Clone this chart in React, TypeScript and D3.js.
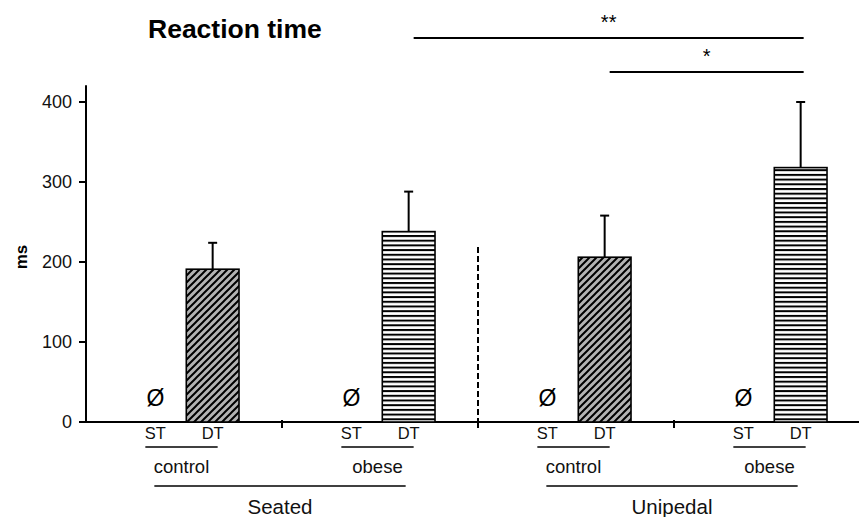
import React from "react";
import * as d3 from "d3";

const conditions = ["Seated", "Unipedal"];
const groups = ["control", "obese"];
const tasks = ["ST", "DT"];
// DT reaction time means (ms) per condition × group; ST has no data (Ø)
const dtMean = [191, 238, 206, 318];
const dtErr = [33, 50, 52, 82];
const yTicks = [0, 100, 200, 300, 400];
const comparisons = [
  { from: 1, to: 3, label: "**" },
  { from: 2, to: 3, label: "*" },
];

const W = 859;
const H = 517;
const FONT = "'Liberation Sans', Arial, Helvetica, sans-serif";

export default function App() {
  const cells = conditions.flatMap((c) => groups.map((g) => `${c}|${g}`));
  const x0 = d3.scaleBand<string>().domain(cells).range([86, 870]).padding(0);
  const x1 = d3
    .scaleBand<string>()
    .domain(tasks)
    .range([0, x0.bandwidth()])
    .paddingInner(0.08)
    .paddingOuter(0.75);
  const y = d3.scaleLinear().domain([0, 400]).range([422, 102]);
  const axisX = x0.range()[0];
  const bw = x1.bandwidth();
  const center = (i: number, t: string) => (x0(cells[i]) as number) + (x1(t) as number) + bw / 2;

  return (
    <svg
      width={W}
      height={H}
      style={{ position: "absolute", left: 0, top: 0, background: "#fff" }}
      fontFamily={FONT}
    >
      <defs>
        <pattern id="diag" patternUnits="userSpaceOnUse" width="7" height="7">
          <rect width="7" height="7" fill="#b3b3b3" />
          <path d="M-1,1 l2,-2 M0,7 l7,-7 M6,8 l2,-2" stroke="#000" strokeWidth="2" />
        </pattern>
        <pattern id="horiz" patternUnits="userSpaceOnUse" width="8" height="4.7">
          <rect width="8" height="4.7" fill="#fff" />
          <line x1="0" x2="8" y1="1" y2="1" stroke="#000" strokeWidth="2" />
        </pattern>
      </defs>

      {/* title */}
      <text x={148} y={38} fontSize={26.5} fontWeight="bold" fill="#000">
        Reaction time
      </text>

      {/* y axis */}
      <line x1={axisX} x2={axisX} y1={y(421)} y2={y(0)} stroke="#000" strokeWidth={2} />
      {yTicks.map((t) => (
        <g key={t}>
          <line x1={axisX - 7} x2={axisX} y1={y(t)} y2={y(t)} stroke="#000" strokeWidth={2} />
          <text x={axisX - 14} y={y(t)} dy="0.35em" textAnchor="end" fontSize={18} fill="#111">
            {t}
          </text>
        </g>
      ))}
      <text
        transform={`translate(27,257) rotate(-90)`}
        textAnchor="middle"
        fontSize={17}
        fontWeight="bold"
        fill="#000"
      >
        ms
      </text>

      {/* x axis */}
      <line x1={axisX} x2={W} y1={y(0)} y2={y(0)} stroke="#000" strokeWidth={2} />
      {cells.slice(1).map((c) => (
        <line
          key={c}
          x1={x0(c) as number}
          x2={x0(c) as number}
          y1={y(0) - 2}
          y2={y(0) + 6}
          stroke="#000"
          strokeWidth={2}
        />
      ))}
      {/* dashed separator between conditions */}
      <line
        x1={x0(cells[2]) as number}
        x2={x0(cells[2]) as number}
        y1={247}
        y2={y(0)}
        stroke="#000"
        strokeWidth={2}
        strokeDasharray="6,3"
      />

      {/* bars */}
      {cells.map((c, i) => {
        const xs = center(i, "ST");
        const xd = center(i, "DT");
        const left = xd - bw / 2;
        const group = groups[i % 2];
        return (
          <g key={c}>
            <text x={xs} y={406} textAnchor="middle" fontSize={23} fill="#000">
              Ø
            </text>
            <rect
              x={left}
              y={y(dtMean[i])}
              width={bw}
              height={y(0) - y(dtMean[i])}
              fill={group === "control" ? "url(#diag)" : "url(#horiz)"}
              stroke="#000"
              strokeWidth={1.6}
            />
            <line
              x1={xd}
              x2={xd}
              y1={y(dtMean[i])}
              y2={y(dtMean[i] + dtErr[i])}
              stroke="#000"
              strokeWidth={2}
            />
            <line
              x1={xd - 4.5}
              x2={xd + 4.5}
              y1={y(dtMean[i] + dtErr[i])}
              y2={y(dtMean[i] + dtErr[i])}
              stroke="#000"
              strokeWidth={2}
            />
            {tasks.map((t) => (
              <text
                key={t}
                x={center(i, t)}
                y={439}
                textAnchor="middle"
                fontSize={16.5}
                fill="#111"
              >
                {t}
              </text>
            ))}
            <line
              x1={xs - 10}
              x2={xd + 5}
              y1={447}
              y2={447}
              stroke="#000"
              strokeWidth={1.6}
            />
            <text
              x={(xs - 10 + xd + 5) / 2}
              y={473}
              textAnchor="middle"
              fontSize={18.5}
              fill="#111"
            >
              {group}
            </text>
          </g>
        );
      })}

      {/* condition labels */}
      {conditions.map((cond, k) => {
        const a = center(k * 2, "ST") - 1;
        const b = center(k * 2 + 1, "DT") - 3;
        return (
          <g key={cond}>
            <line x1={a} x2={b} y1={486} y2={486} stroke="#000" strokeWidth={1.6} />
            <text x={(a + b) / 2} y={514} textAnchor="middle" fontSize={20.5} fill="#111">
              {cond}
            </text>
          </g>
        );
      })}

      {/* significance */}
      {comparisons.map((cmp, k) => {
        const a = center(cmp.from, "DT") + 5;
        const b = center(cmp.to, "DT") + 3;
        const ly = k === 0 ? 38 : 72;
        return (
          <g key={k}>
            <line x1={a} x2={b} y1={ly} y2={ly} stroke="#000" strokeWidth={2} />
            <text x={(a + b) / 2} y={ly - 9} textAnchor="middle" fontSize={20} fill="#000">
              {cmp.label}
            </text>
          </g>
        );
      })}
    </svg>
  );
}
